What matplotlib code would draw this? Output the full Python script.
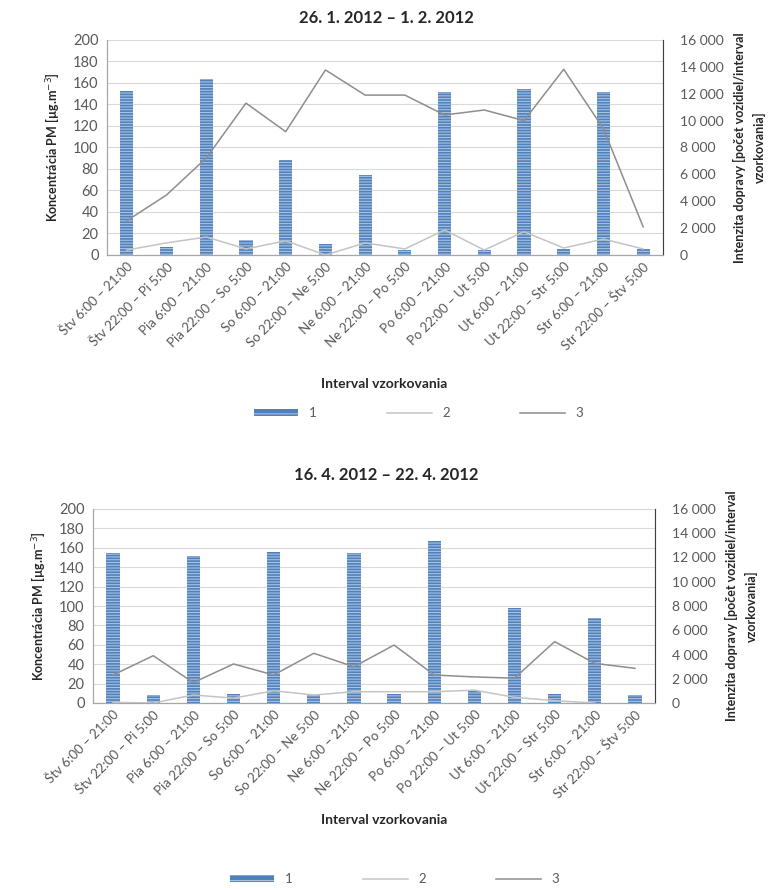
import numpy as np
import matplotlib
matplotlib.use("Agg")
import matplotlib.pyplot as plt
from matplotlib.ticker import FuncFormatter, MultipleLocator
from matplotlib.patches import Rectangle
from matplotlib.lines import Line2D

plt.rcParams['font.family'] = ['Lato', 'DejaVu Sans']
plt.rcParams['hatch.linewidth'] = 0.8

categories = [
    "Štv 6:00 – 21:00", "Štv 22:00 – Pi 5:00", "Pia 6:00 – 21:00",
    "Pia 22:00 – So 5:00", "So 6:00 – 21:00", "So 22:00 – Ne 5:00",
    "Ne 6:00 – 21:00", "Ne 22:00 – Po 5:00", "Po 6:00 – 21:00",
    "Po 22:00 – Ut 5:00", "Ut 6:00 – 21:00", "Ut 22:00 – Str 5:00",
    "Str 6:00 – 21:00", "Str 22:00 – Štv 5:00",
]

# Week 1: 26. 1. 2012 – 1. 2. 2012
title_1 = "26. 1. 2012 – 1. 2. 2012"
pm_1 = [153, 7, 164, 14, 88, 10, 74, 5, 152, 5, 154, 6, 152, 6]
s2_1 = [370, 900, 1340, 450, 1060, 0, 900, 450, 1860, 370, 1730, 520, 1190, 450]
s3_1 = [2550, 4470, 7220, 11300, 9180, 13770, 11900, 11900, 10420, 10790, 10000, 13820, 9400, 2100]

# Week 2: 16. 4. 2012 – 22. 4. 2012
title_2 = "16. 4. 2012 – 22. 4. 2012"
pm_2 = [155, 8, 152, 9, 156, 8, 155, 9, 167, 12, 98, 9, 88, 8]
s2_2 = [50, 0, 660, 400, 1010, 660, 930, 930, 930, 1060, 470, 190, 0, np.nan]
s3_2 = [2310, 3900, 1680, 3220, 2310, 4100, 2990, 4780, 2310, 2150, 2050, 5060, 3270, 2860]

legend_labels = ["1", "2", "3"]

BAR = '#4F81BD'
HATCH = '#A9C1E0'
C2 = '#C4C4C4'
C3 = '#8E8E8E'
TXT = '#595959'
GRID = '#D9D9D9'

fig = plt.figure(figsize=(7.73, 8.90), dpi=100)


def space_thousands(v, pos):
    return f"{int(v):,}".replace(",", " ")


def panel(rect, title, pm, s2, s3, title_y, xlab_y, leg_y, leg_x):
    ax = fig.add_axes(rect)
    x = np.arange(len(categories))
    ax.bar(x, pm, width=0.33, color=BAR, edgecolor=HATCH, hatch='------',
           linewidth=0, zorder=3)
    ax.set_ylim(0, 200)
    ax.set_xlim(-0.5, len(categories) - 0.5)
    ax.yaxis.set_major_locator(MultipleLocator(20))
    ax.grid(axis='y', color=GRID, linewidth=0.8, zorder=0)
    ax.set_axisbelow(True)
    ax.spines['top'].set_visible(False)
    for s in ['left', 'bottom', 'right']:
        ax.spines[s].set_color('#A6A6A6')
    ax.tick_params(axis='y', colors=TXT, labelsize=10.5, length=0, pad=6)
    ax.tick_params(axis='x', colors=TXT, length=0, pad=4)
    ax.set_xticks(x)
    ax.set_xticklabels(categories, rotation=45, ha='right',
                       rotation_mode='anchor', fontsize=9.5, color=TXT)
    ax.set_ylabel("Koncentrácia PM [µg.m$^{-3}$]", fontsize=9,
                  fontweight='bold', color='#262626', labelpad=9)

    ax2 = ax.twinx()
    ax2.plot(x, s2, color=C2, linewidth=1.1, zorder=4)
    ax2.plot(x, s3, color=C3, linewidth=1.1, zorder=4)
    ax2.set_ylim(0, 16000)
    ax2.yaxis.set_major_locator(MultipleLocator(2000))
    ax2.yaxis.set_major_formatter(FuncFormatter(space_thousands))
    ax2.tick_params(axis='y', colors=TXT, labelsize=10, length=0, pad=12)
    ax2.spines['top'].set_visible(False)
    ax2.spines['right'].set_color('#404040')
    ax2.spines['left'].set_color('#A6A6A6')
    ax2.spines['bottom'].set_color('#A6A6A6')
    ax2.set_ylabel("Intenzita dopravy [počet vozidiel/interval\nvzorkovania]",
                   fontsize=9, fontweight='bold', color='#262626',
                   labelpad=7, linespacing=1.6, ha='center')

    fig.text(0.5, title_y, title, ha='center', va='center',
             fontsize=12, fontweight='bold', color='#262626')
    fig.text(0.497, xlab_y, "Interval vzorkovania", ha='center', va='center',
             fontsize=10, fontweight='bold', color='#262626')

    handles = [Rectangle((0, 0), 1, 1, facecolor=BAR, edgecolor=HATCH,
                         hatch='---', linewidth=0),
               Line2D([0], [0], color=C2, linewidth=1.1),
               Line2D([0], [0], color=C3, linewidth=1.1)]
    fig.legend(handles, legend_labels, loc='center', ncol=3,
               bbox_to_anchor=(leg_x, leg_y), frameon=False,
               fontsize=9.5, labelcolor=TXT, columnspacing=5.3,
               handlelength=3.4, handleheight=0.5, handletextpad=0.8)
    return ax


panel([107 / 773, 1 - 255 / 890, (663 - 107) / 773, (255 - 40) / 890],
      title_1, pm_1, s2_1, s3_1,
      title_y=1 - 18 / 890, xlab_y=1 - 384 / 890, leg_y=1 - 413 / 890,
      leg_x=0.541)
panel([93 / 773, 1 - 703 / 890, (655 - 93) / 773, (703 - 509) / 890],
      title_2, pm_2, s2_2, s3_2,
      title_y=1 - 475 / 890, xlab_y=1 - 820 / 890, leg_y=1 - 879 / 890,
      leg_x=0.51)

fig.savefig("out.png", dpi=100, facecolor='white')
